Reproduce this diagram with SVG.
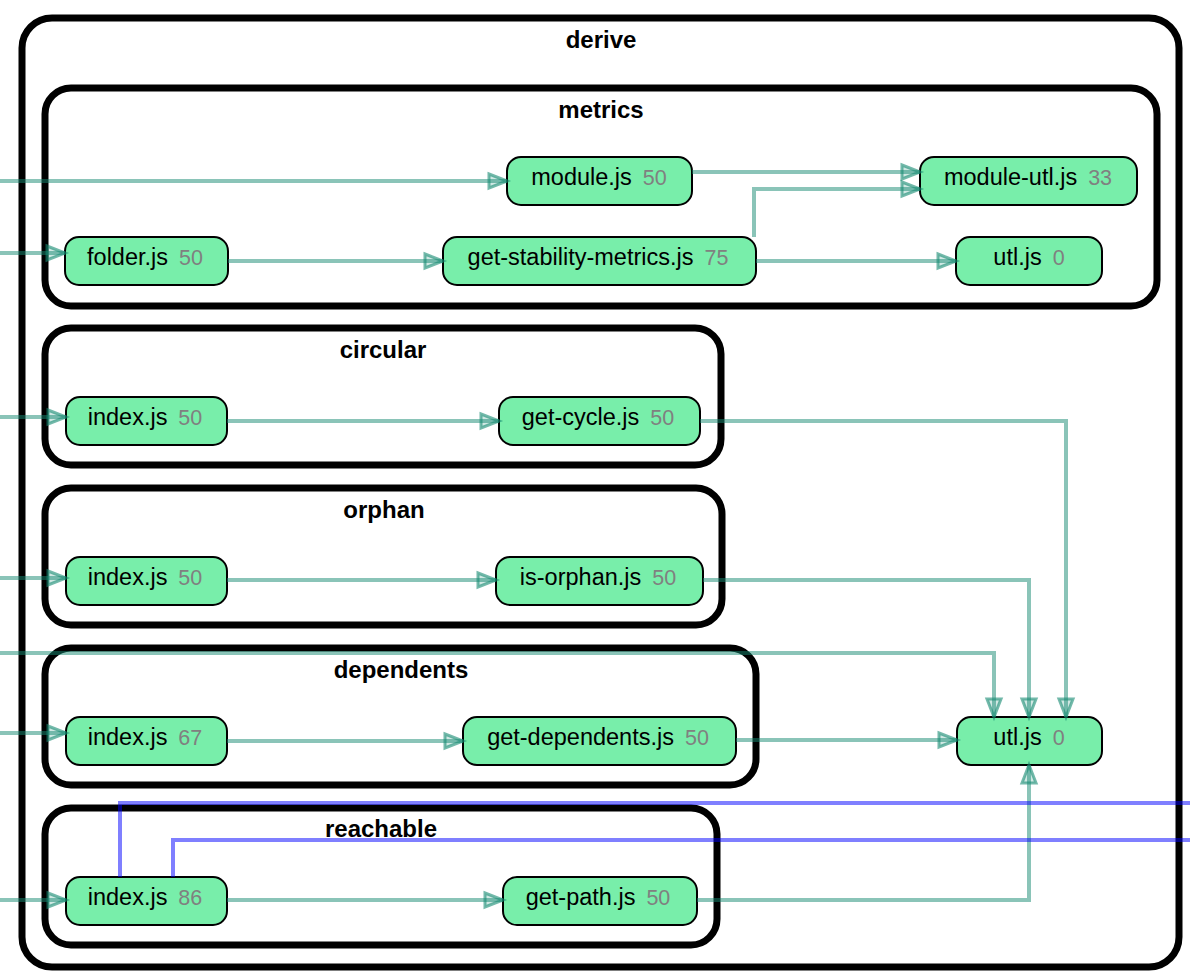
<svg xmlns="http://www.w3.org/2000/svg" width="1190" height="980" viewBox="0 0 1190 980">
<style>
.cl{fill:none;stroke:#000;stroke-width:7}
.cll{font-family:"Liberation Sans",Arial,sans-serif;font-weight:bold;font-size:24px;fill:#000;text-anchor:middle}
.nd rect{fill:#78eeaa;stroke:#000;stroke-width:2}
.nd text{font-family:"Liberation Sans",Arial,sans-serif;font-size:23.5px;fill:#000;text-anchor:middle}
.nd tspan{font-size:21.5px;fill:#808080}
.e{fill:none;stroke:#168a72;stroke-opacity:.5;stroke-width:4}
.b{fill:none;stroke:#0000ff;stroke-opacity:.5;stroke-width:4}
</style>
<defs>
<marker id="ah" markerUnits="userSpaceOnUse" markerWidth="22" markerHeight="18" refX="19" refY="8" orient="auto" overflow="visible">
<path d="M1,1 L19,8 L1,15 Z" fill="#168a72" fill-opacity=".2" stroke="#168a72" stroke-opacity=".6" stroke-width="3" stroke-linejoin="miter"/>
</marker>
</defs>
<rect width="1190" height="980" fill="#fff"/>
<g id="cluster-derive">
<rect class="cl" x="22" y="18" width="1157" height="949" rx="30"/>
<text class="cll" x="601" y="48">derive</text>
</g>
<g id="cluster-metrics">
<rect class="cl" x="45" y="88" width="1112" height="218" rx="26"/>
<text class="cll" x="601" y="118">metrics</text>
</g>
<g id="cluster-circular">
<rect class="cl" x="45" y="328" width="676" height="137" rx="26"/>
<text class="cll" x="383" y="358">circular</text>
</g>
<g id="cluster-orphan">
<rect class="cl" x="45" y="488" width="677" height="137" rx="26"/>
<text class="cll" x="384" y="518">orphan</text>
</g>
<g id="cluster-dependents">
<rect class="cl" x="45" y="648" width="711" height="137" rx="26"/>
<text class="cll" x="401" y="678">dependents</text>
</g>
<g id="cluster-reachable">
<rect class="cl" x="45" y="808" width="672" height="137" rx="26"/>
<text class="cll" x="381" y="837">reachable</text>
</g>

<g id="node-module" class="nd"><rect x="507" y="157" width="185" height="48" rx="14"/><text x="599" y="185">module.js<tspan dx="5"> 50</tspan></text></g>
<g id="node-module-utl" class="nd"><rect x="920" y="157" width="217" height="48" rx="14"/><text x="1028" y="185">module-utl.js<tspan dx="5"> 33</tspan></text></g>
<g id="node-folder" class="nd"><rect x="65" y="237" width="163" height="48" rx="14"/><text x="145" y="265">folder.js<tspan dx="5"> 50</tspan></text></g>
<g id="node-get-stability-metrics" class="nd"><rect x="443" y="237" width="313" height="48" rx="14"/><text x="598" y="265">get-stability-metrics.js<tspan dx="5"> 75</tspan></text></g>
<g id="node-metrics-utl" class="nd"><rect x="956" y="237" width="146" height="48" rx="14"/><text x="1029" y="265">utl.js<tspan dx="5"> 0</tspan></text></g>
<g id="node-circular-index" class="nd"><rect x="66" y="397" width="161" height="48" rx="14"/><text x="145" y="425">index.js<tspan dx="5"> 50</tspan></text></g>
<g id="node-get-cycle" class="nd"><rect x="499" y="397" width="201" height="48" rx="14"/><text x="598" y="425">get-cycle.js<tspan dx="5"> 50</tspan></text></g>
<g id="node-orphan-index" class="nd"><rect x="66" y="557" width="161" height="48" rx="14"/><text x="145" y="585">index.js<tspan dx="5"> 50</tspan></text></g>
<g id="node-is-orphan" class="nd"><rect x="496" y="557" width="207" height="48" rx="14"/><text x="598" y="585">is-orphan.js<tspan dx="5"> 50</tspan></text></g>
<g id="node-dependents-index" class="nd"><rect x="66" y="717" width="161" height="48" rx="14"/><text x="145" y="745">index.js<tspan dx="5"> 67</tspan></text></g>
<g id="node-get-dependents" class="nd"><rect x="463" y="717" width="273" height="48" rx="14"/><text x="598" y="745">get-dependents.js<tspan dx="5"> 50</tspan></text></g>
<g id="node-derive-utl" class="nd"><rect x="957" y="717" width="145" height="48" rx="14"/><text x="1029" y="745">utl.js<tspan dx="5"> 0</tspan></text></g>
<g id="node-reachable-index" class="nd"><rect x="66" y="877" width="161" height="48" rx="14"/><text x="145" y="905">index.js<tspan dx="5"> 86</tspan></text></g>
<g id="node-get-path" class="nd"><rect x="503" y="877" width="194" height="48" rx="14"/><text x="598" y="905">get-path.js<tspan dx="5"> 50</tspan></text></g>

<g id="connectors">
<path class="e" marker-end="url(#ah)" d="M0,181 H507"/>
<path class="e" marker-end="url(#ah)" d="M0,253 H65"/>
<path class="e" marker-end="url(#ah)" d="M228,261 H443"/>
<path class="e" marker-end="url(#ah)" d="M692,172 H920"/>
<path class="e" marker-end="url(#ah)" d="M754,237 V189 H920"/>
<path class="e" marker-end="url(#ah)" d="M756,261 H956"/>
<path class="e" marker-end="url(#ah)" d="M0,417 H66"/>
<path class="e" marker-end="url(#ah)" d="M227,421 H499"/>
<path class="e" marker-end="url(#ah)" d="M700,421 H1066 V717"/>
<path class="e" marker-end="url(#ah)" d="M0,578 H66"/>
<path class="e" marker-end="url(#ah)" d="M227,580 H496"/>
<path class="e" marker-end="url(#ah)" d="M703,580 H1029 V717"/>
<path class="e" marker-end="url(#ah)" d="M0,653 H994 V717"/>
<path class="e" marker-end="url(#ah)" d="M0,733 H66"/>
<path class="e" marker-end="url(#ah)" d="M227,741 H463"/>
<path class="e" marker-end="url(#ah)" d="M736,740 H957"/>
<path class="e" marker-end="url(#ah)" d="M0,900 H66"/>
<path class="e" marker-end="url(#ah)" d="M227,900 H503"/>
<path class="e" marker-end="url(#ah)" d="M697,900 H1029 V765"/>
<path class="b" d="M120,877 V803 H1190"/>
<path class="b" d="M173,877 V840 H1190"/>
</g>
</svg>
